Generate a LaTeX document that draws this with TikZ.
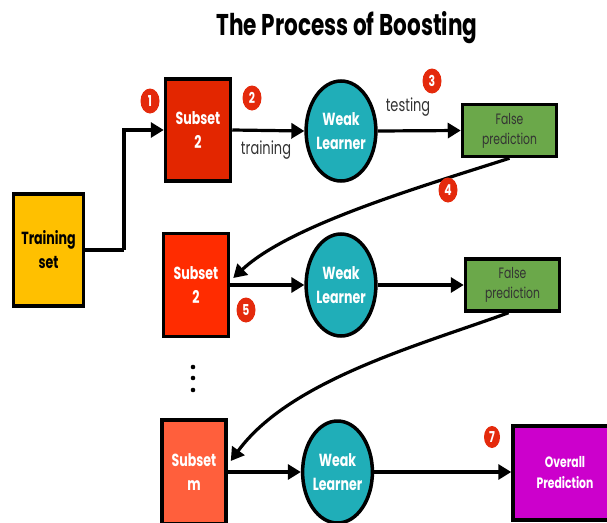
\documentclass[tikz,border=0pt]{standalone}
\usepackage{fontspec}
\setmainfont[FakeStretch=0.72]{Poppins}
\usetikzlibrary{arrows.meta,calc,shapes.geometric}
\definecolor{cTrain}{HTML}{FFC000}
\definecolor{cSubA}{HTML}{E32600}
\definecolor{cSubB}{HTML}{FF2C00}
\definecolor{cSubM}{HTML}{FF5F3C}
\definecolor{cWeak}{HTML}{20AEB8}
\definecolor{cFalse}{HTML}{6BA84A}
\definecolor{cOver}{HTML}{CC00CC}
\definecolor{cBadge}{HTML}{E42A0C}
\definecolor{cText}{HTML}{333333}
\tikzset{
  box/.style={draw=black, line width=3.5pt, inner sep=0pt, align=center, text=white,
    font=\fontsize{17.5}{24}\selectfont\bfseries},
  weak/.style={ellipse, draw=black, line width=3.5pt, fill=cWeak, inner sep=0pt,
    minimum width=62pt, minimum height=100pt, align=center, text=white,
    font=\fontsize{17.5}{24}\selectfont\bfseries},
  falsebox/.style={draw=black, line width=3.5pt, fill=cFalse, inner sep=0pt,
    minimum width=94pt, minimum height=52pt, align=center, text=cText,
    font=\fontsize{15}{20}\selectfont},
  badge/.style={ellipse, fill=cBadge, inner sep=0pt, minimum width=19pt, minimum height=25pt,
    text=white, font=\fontsize{15}{15}\selectfont\bfseries},
  conn/.style={line width=3.2pt, -{Triangle[length=13pt,width=15pt]}},
  lbl/.style={text=cText, font=\fontsize{18}{22}\selectfont},
}
\begin{document}
\begin{tikzpicture}[x=1pt,y=-1pt]
\useasboundingbox (0,0) rectangle (607,522);
\node (title) at (347,28) {\fontsize{30}{36}\selectfont\bfseries The Process of Boosting};

\node[box, fill=cTrain, text=black, minimum width=70pt, minimum height=112pt] (train) at (48.5,250) {Training\\set};
\node[box, fill=cSubA, minimum width=65pt, minimum height=102pt] (s1) at (198,130) {Subset\\2};
\node[weak] (wl1) at (341,131) {Weak\\Learner};
\node[falsebox] (fp1) at (509.5,130.5) {False\\prediction};

\node[box, fill=cSubB, minimum width=65pt, minimum height=103pt] (s2) at (196,285) {Subset\\2};
\node[weak, minimum width=64pt, minimum height=102pt] (wl2) at (341,285) {Weak\\Learner};
\node[falsebox] (fp2) at (512.5,285) {False\\prediction};

\node[box, fill=cSubM, minimum width=64pt, minimum height=104pt] (sm) at (194,472) {Subset\\m};
\node[weak, minimum width=65pt, minimum height=102pt] (wl3) at (337.5,472) {Weak\\Learner};
\node[box, fill=cOver, minimum width=104pt, minimum height=94pt, font=\fontsize{15}{21}\selectfont\bfseries] (op) at (565,473) {Overall\\Prediction};

\foreach \i/\yy in {a/367,b/378,c/390}
  \fill (193,\yy) circle (2.3pt);

% connectors
\coordinate (bend) at (124,0);
\draw[line width=3.2pt] (train.east) -- (train.east -| bend) coordinate (k1);
\draw[conn] (k1) |- (s1.west);
\draw[conn] (s1.east) -- (wl1.west);
\draw[conn] (wl1.east) -- (fp1.west);
\draw[conn] (s2.east) -- (wl2.west);
\draw[conn] (wl2.east) -- (fp2.west);
\draw[conn] (sm.east |- wl3.center) -- (wl3.west);
\draw[conn] (wl3.east) -- (op.west |- wl3.center);
\draw[conn] (fp1.south) .. controls (420,187) and (290,225) .. ($(s2.east)+(3,-7)$);
\draw[conn] ($(fp2.south)+(-4,0)$) .. controls (420,345) and (290,380) .. ($(sm.east)+(3,-11)$);

% labels
\node[lbl] (ltrain) at (266,150) {training};
\node[lbl] (ltest) at (408,107) {testing};

% badges
\node[badge] (b1) at (150,101) {1};
\node[badge] (b2) at (252,98) {2};
\node[badge] (b3) at (432,81) {3};
\node[badge] (b4) at (448,190) {4};
\node[badge] (b5) at (246,310) {5};
\node[badge, minimum width=16pt, minimum height=22pt] (b7) at (492,437) {7};
\end{tikzpicture}
\end{document}
